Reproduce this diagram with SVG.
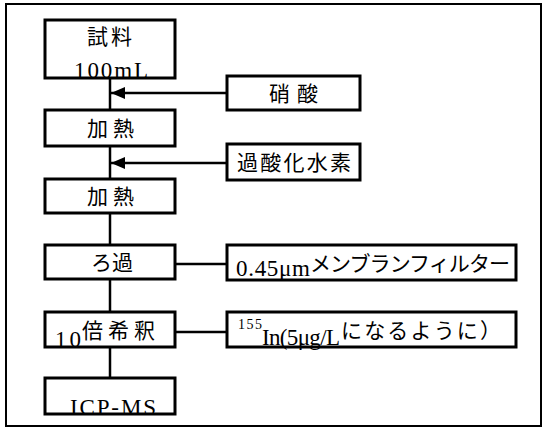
<svg xmlns="http://www.w3.org/2000/svg" width="546" height="428" viewBox="0 0 546 428">
<defs>
<style>
.box{fill:#fff;stroke:#000;stroke-width:3}
.ln{stroke:#000;stroke-width:2.5;fill:none}
.j{font-family:"Noto Sans CJK JP","Noto Sans CJK SC",sans-serif;font-size:21px;fill:#000}
.s{font-family:"Liberation Serif",serif;font-size:23px;fill:#000}
.sup{font-family:"Liberation Serif",serif;font-size:14px;fill:#000}
</style>
<marker id="ah" markerWidth="14" markerHeight="12" refX="14" refY="6" orient="auto" markerUnits="userSpaceOnUse">
<path d="M0,0 L14,6 L0,12 Z" fill="#000"/>
</marker>
</defs>
<rect x="0" y="0" width="546" height="428" fill="#fff"/>
<rect x="6" y="4" width="535" height="422" fill="none" stroke="#000" stroke-width="2"/>
<g id="connectors">
<line class="ln" x1="110" y1="78" x2="110" y2="110"/>
<line class="ln" x1="110" y1="146" x2="110" y2="179"/>
<line class="ln" x1="110" y1="213" x2="110" y2="245"/>
<line class="ln" x1="110" y1="279" x2="110" y2="312"/>
<line class="ln" x1="110" y1="347" x2="110" y2="378"/>
<line class="ln" x1="227" y1="93" x2="111" y2="93" marker-end="url(#ah)"/>
<line class="ln" x1="227" y1="163" x2="111" y2="163" marker-end="url(#ah)"/>
<line class="ln" x1="175" y1="264" x2="227" y2="264"/>
<line class="ln" x1="175" y1="332" x2="227" y2="332"/>
</g>
<g id="n-sample">
<rect class="box" x="45" y="20" width="130" height="58"/>
<text class="j" x="87" y="44" textLength="45">試料</text>
<text class="s" x="74" y="78" textLength="74">100mL</text>
</g>
<g id="n-nitric">
<rect class="box" x="227" y="76" width="133" height="34"/>
<text class="j" x="269" y="101" textLength="49">硝酸</text>
</g>
<g id="n-heat1">
<rect class="box" x="45" y="110" width="130" height="36"/>
<text class="j" x="87" y="136" textLength="47">加熱</text>
</g>
<g id="n-h2o2">
<rect class="box" x="227" y="144" width="133" height="36"/>
<text class="j" x="237" y="170" textLength="114">過酸化水素</text>
</g>
<g id="n-heat2">
<rect class="box" x="45" y="179" width="130" height="34"/>
<text class="j" x="87" y="204" textLength="47">加熱</text>
</g>
<g id="n-filter">
<rect class="box" x="45" y="245" width="130" height="34"/>
<text class="j" x="91" y="270" textLength="42">ろ過</text>
</g>
<g id="n-membrane">
<rect class="box" x="227" y="245" width="289" height="35"/>
<text class="s" x="236" y="276" textLength="74">0.45μm</text>
<text class="j" x="310" y="271" textLength="200">メンブランフィルター</text>
</g>
<g id="n-dilute">
<rect class="box" x="45" y="312" width="130" height="35"/>
<text class="s" x="55" y="347" textLength="26">10</text>
<text class="j" x="82" y="338" textLength="73">倍希釈</text>
</g>
<g id="n-in">
<rect class="box" x="227" y="312" width="289" height="35"/>
<text class="sup" x="238" y="329" textLength="24">155</text>
<text class="s" x="262" y="345" textLength="78">In(5μg/L</text>
<text class="j" x="341" y="338" textLength="160">になるように）</text>
</g>
<g id="n-icp">
<rect class="box" x="45" y="378" width="130" height="36"/>
<text class="s" x="70" y="415" textLength="86">ICP-MS</text>
</g>
</svg>
